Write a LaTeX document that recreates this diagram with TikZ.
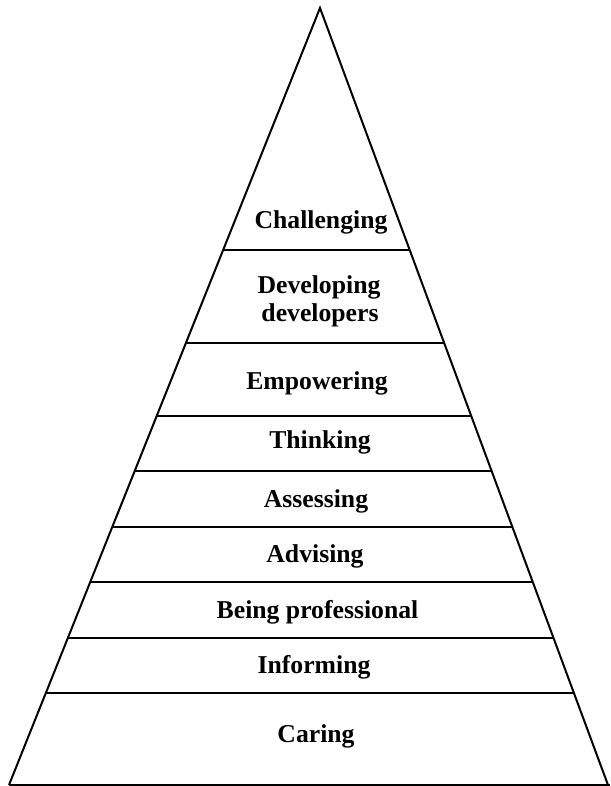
\documentclass[tikz,border=0pt]{standalone}
\usepackage{fontspec}
\setmainfont{Liberation Serif}
\usetikzlibrary{calc}
\tikzset{
  edge/.style={line width=2pt, black},
  lbl/.style={font=\bfseries\fontsize{25.7}{29}\selectfont, anchor=base, align=center, inner sep=0pt}
}
\begin{document}
\begin{tikzpicture}[x=1pt,y=-1pt]
\useasboundingbox (0,0) rectangle (610,786);
\coordinate (A) at (320,8);
\coordinate (BL) at (9,785);
\coordinate (BR) at (608,785);
\draw[edge, line join=miter] (BL) -- (A) -- (BR);
\draw[edge] (BL) -- (610,785);
\foreach \y [count=\i] in {250,343,416,471,527,582,638,693}{
  \pgfmathsetmacro{\t}{(\y-8)/777}
  \coordinate (L\i) at ($(A)!\t!(BL)$);
  \coordinate (R\i) at ($(A)!\t!(BR)$);
  \draw[edge] (L\i) -- (R\i);
}
\node[lbl] (n1) at (321,229) {Challenging};
\node[lbl] (n2) at (319,293) {Developing};
\node[lbl] (n2b) at (320,321) {developers};
\node[lbl] (n3) at (317,389) {Empowering};
\node[lbl] (n4) at (320,448) {Thinking};
\node[lbl] (n5) at (316,507) {Assessing};
\node[lbl] (n6) at (315,562) {Advising};
\node[lbl] (n7) at (317.5,618) {Being professional};
\node[lbl] (n8) at (314,673) {Informing};
\node[lbl] (n9) at (316,742) {Caring};
\end{tikzpicture}
\end{document}
